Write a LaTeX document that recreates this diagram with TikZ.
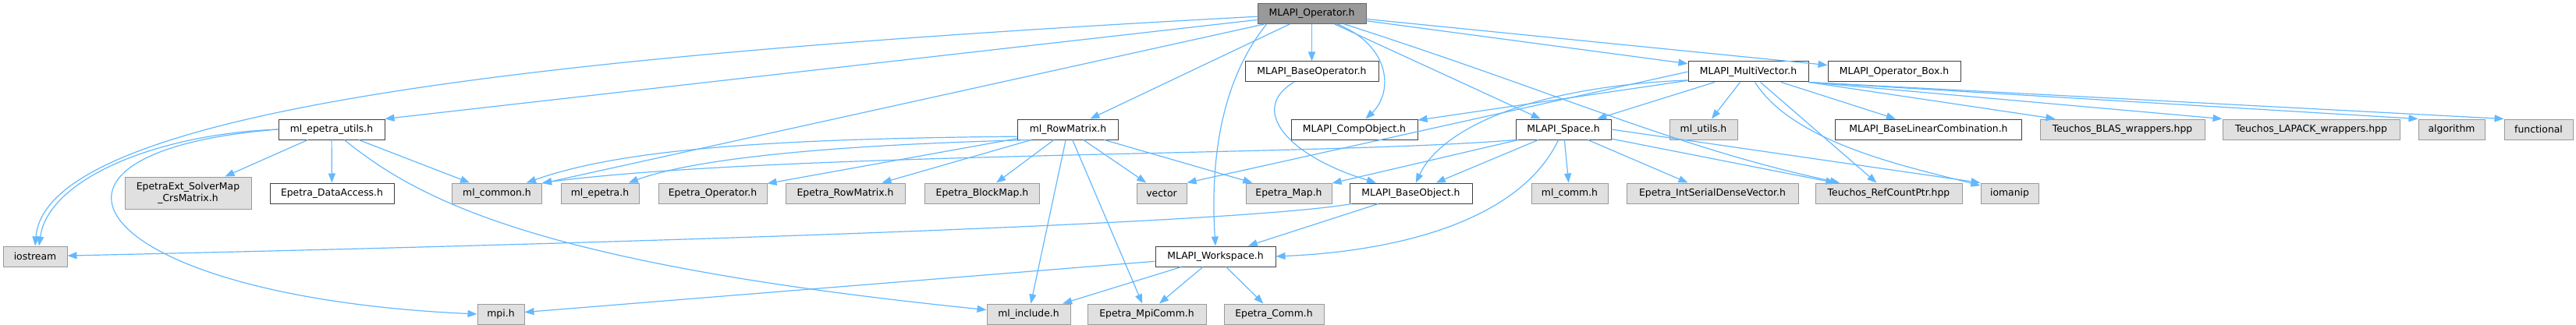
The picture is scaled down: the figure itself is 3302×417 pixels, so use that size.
\documentclass[tikz,border=0pt]{standalone}
\usepackage{fontspec}
\setmainfont{DejaVu Sans}
\usetikzlibrary{arrows.meta}
\definecolor{depblue}{HTML}{63B8FF}
\definecolor{docline}{HTML}{404040}
\definecolor{extline}{HTML}{999999}
\definecolor{extfill}{HTML}{E0E0E0}
\definecolor{rootline}{HTML}{666666}
\definecolor{rootfill}{HTML}{999999}
\begin{document}
\begin{tikzpicture}[x=1pt, y=-1pt,
		every node/.style={font=\fontsize{12.4}{14.5}\selectfont, minimum height=26pt, inner sep=0pt},
		hdr/.style={draw=docline, fill=white, line width=1pt},
		ext/.style={draw=extline, fill=extfill, line width=1pt},
		root/.style={draw=rootline, fill=rootfill, line width=1pt},
		dep/.style={draw=depblue, line width=1.2pt, -{Triangle[length=12pt,width=9pt]}}]
				\useasboundingbox (0,0) rectangle (3302,417);
				\node[root, minimum width=139pt] (op) at (1681.5,17.5) {MLAPI\_Operator.h};
				\node[hdr, minimum width=171pt] (baseop) at (1681.5,92) {MLAPI\_BaseOperator.h};
				\node[hdr, minimum width=154pt] (multivec) at (2241,92) {MLAPI\_MultiVector.h};
				\node[hdr, minimum width=170pt] (opbox) at (2428,92) {MLAPI\_Operator\_Box.h};
				\node[hdr, minimum width=136pt] (epu) at (425,166) {ml\_epetra\_utils.h};
				\node[hdr, minimum width=129pt] (rowm) at (1369,166) {ml\_RowMatrix.h};
				\node[hdr, minimum width=162pt] (compobj) at (1736,166) {MLAPI\_CompObject.h};
				\node[hdr, minimum width=122pt] (space) at (2004,166) {MLAPI\_Space.h};
				\node[ext, minimum width=87pt] (mlutils) at (2183.5,166) {ml\_utils.h};
				\node[hdr, minimum width=239pt] (blc) at (2472,166) {MLAPI\_BaseLinearCombination.h};
				\node[ext, minimum width=211pt] (blas) at (2720.5,166) {Teuchos\_BLAS\_wrappers.hpp};
				\node[ext, minimum width=227pt] (lapack) at (2962.5,166) {Teuchos\_LAPACK\_wrappers.hpp};
				\node[ext, minimum width=85pt] (algo) at (3142.5,166) {algorithm};
				\node[ext, minimum width=88pt] (func) at (3254,166) {functional};
				\node[ext, minimum width=162pt, minimum height=41pt, align=center] (solver) at (241,247.5) {EpetraExt\_SolverMap\\\_CrsMatrix.h};
				\node[hdr, minimum width=159pt] (dataacc) at (425.5,248) {Epetra\_DataAccess.h};
				\node[ext, minimum width=115pt] (mlcommon) at (637,248) {ml\_common.h};
				\node[ext, minimum width=100pt] (mlepetra) at (769,248) {ml\_epetra.h};
				\node[ext, minimum width=139pt] (epop) at (913.5,248) {Epetra\_Operator.h};
				\node[ext, minimum width=153pt] (eprowm) at (1083.5,248) {Epetra\_RowMatrix.h};
				\node[ext, minimum width=147pt] (epbmap) at (1259,248) {Epetra\_BlockMap.h};
				\node[ext, minimum width=64pt] (vector) at (1489,248) {vector};
				\node[ext, minimum width=110pt] (epmap) at (1652,248) {Epetra\_Map.h};
				\node[hdr, minimum width=157pt] (baseobj) at (1808.5,248) {MLAPI\_BaseObject.h};
				\node[ext, minimum width=98pt] (mlcomm) at (2012,248) {ml\_comm.h};
				\node[ext, minimum width=220pt] (intsdv) at (2195,248) {Epetra\_IntSerialDenseVector.h};
				\node[ext, minimum width=188pt] (rcp) at (2421,248) {Teuchos\_RefCountPtr.hpp};
				\node[ext, minimum width=74pt] (iomanip) at (2576,248) {iomanip};
				\node[ext, minimum width=82pt] (iostream) at (45,329) {iostream};
				\node[hdr, minimum width=154pt] (workspace) at (1558,329) {MLAPI\_Workspace.h};
				\node[ext, minimum width=60pt] (mpi) at (642,403) {mpi.h};
				\node[ext, minimum width=107pt] (mlinclude) at (1318.5,403) {ml\_include.h};
				\node[ext, minimum width=152pt] (mpicomm) at (1470,403) {Epetra\_MpiComm.h};
				\node[ext, minimum width=128pt] (epcomm) at (1633,403) {Epetra\_Comm.h};
				\draw[dep] (op) -- (epu.north east);
				\draw[dep] (op) .. controls (700,70) and (60,140) .. (iostream.north);
				\draw[dep] (op) -- (mlcommon);
				\draw[dep] (op) -- (rowm);
				\draw[dep] ([xshift=12pt]op.south west) .. controls (1560,110) and (1552,220) .. (workspace.north);
				\draw[dep] (op) -- (baseop);
				\draw[dep] (op) .. controls (1785,60) and (1785,120) .. (compobj);
				\draw[dep] (op) -- (space);
				\draw[dep] (op) .. controls (2000,120) and (2150,190) .. (rcp);
				\draw[dep] (op) -- (multivec);
				\draw[dep] (op) -- (opbox);
				\draw[dep] (epu.west) .. controls (200,172) and (62,230) .. ([xshift=5pt]iostream.north);
				\draw[dep] (epu.west) .. controls (-10,195) and (110,380) .. (mpi.west);
				\draw[dep] (epu) -- (solver);
				\draw[dep] (epu) -- (dataacc);
				\draw[dep] (epu) -- (mlcommon);
				\draw[dep] (epu) .. controls (540,260) and (700,340) .. (mlinclude);
				\draw[dep] (rowm.188) .. controls (1000,178) and (800,190) .. (mlcommon);
				\draw[dep] (rowm.196) .. controls (1100,185) and (900,200) .. (mlepetra);
				\draw[dep] (rowm) -- (epop);
				\draw[dep] (rowm) -- (eprowm);
				\draw[dep] (rowm) -- (epbmap);
				\draw[dep] (rowm) -- (vector);
				\draw[dep] (rowm) -- (epmap);
				\draw[dep] (rowm) -- (mlinclude);
				\draw[dep] (rowm) -- (mpicomm);
				\draw[dep] (multivec) -- (compobj);
				\draw[dep] (multivec.188) .. controls (1950,112) and (1845,170) .. (baseobj);
				\draw[dep] (multivec.west) -- (vector.north east);
				\draw[dep] (multivec) -- (space);
				\draw[dep] (multivec) -- (mlutils);
				\draw[dep] (multivec) -- (blc);
				\draw[dep] (multivec.south east) -- ([xshift=20pt]blas.north west);
				\draw[dep] (multivec.south east) -- (lapack.north west);
				\draw[dep] (multivec.south east) -- (algo.north west);
				\draw[dep] (multivec.south east) -- (func.north west);
				\draw[dep] (multivec) -- (rcp);
				\draw[dep] (multivec) .. controls (2300,185) and (2450,215) .. (iomanip);
				\draw[dep] (space.south west) .. controls (1700,200) and (1000,195) .. (mlcommon.north east);
				\draw[dep] (space) -- (epmap);
				\draw[dep] (space) -- (baseobj);
				\draw[dep] (space) .. controls (1950,280) and (1800,322) .. (workspace.east);
				\draw[dep] (space) -- (mlcomm);
				\draw[dep] (space) -- (intsdv);
				\draw[dep] (space) -- (rcp);
				\draw[dep] (space.east) -- (iomanip.north west);
				\draw[dep] (baseop) .. controls (1600,140) and (1650,200) .. (baseobj);
				\draw[dep] (baseobj) .. controls (1600,285) and (900,310) .. (iostream);
				\draw[dep] (baseobj) -- (workspace);
				\draw[dep] (workspace) -- (mpi);
				\draw[dep] (workspace) -- (mlinclude);
				\draw[dep] (workspace) -- (mpicomm);
				\draw[dep] (workspace) -- (epcomm);
			\end{tikzpicture}
\end{document}
